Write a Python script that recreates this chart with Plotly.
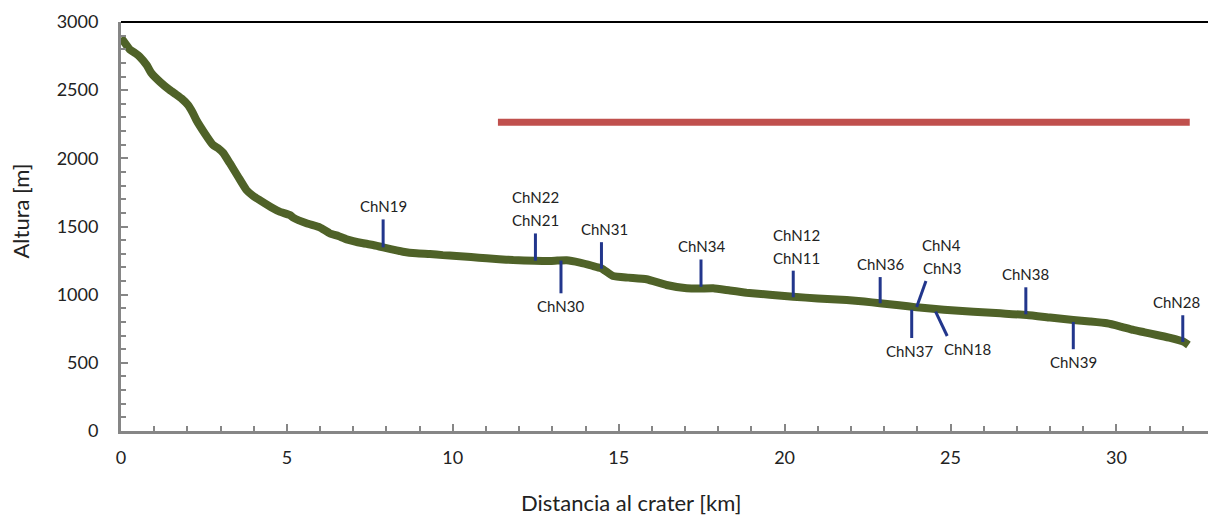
import plotly.graph_objects as go

# Longitudinal profile of the channel: distance from the crater (km) vs elevation (m)
dist_km = [0.00, 0.06, 0.26, 0.45, 0.56, 0.77, 0.92, 1.17, 1.47, 1.65, 1.82, 2.02,
           2.15, 2.27, 2.52, 2.77, 2.95, 3.08, 3.28, 3.53, 3.78, 3.98, 4.18, 4.58,
           4.78, 5.09, 5.19, 5.59, 5.99, 6.29, 6.55, 6.80, 7.30, 7.60, 7.90, 8.50,
           8.90, 9.31, 9.70, 10.11, 10.55, 11.02, 11.40, 11.82, 12.47, 12.82,
           13.15, 13.43, 13.83, 14.20, 14.48, 14.83, 15.30, 15.84, 16.44, 17.05,
           17.45, 17.85, 18.35, 18.85, 19.55, 20.26, 21.00, 21.87, 22.40, 22.87,
           23.45, 23.98, 24.80, 25.69, 26.50, 27.30, 28.00, 28.70, 29.20, 29.71,
           30.10, 30.51, 30.85, 31.22, 31.62, 32.02, 32.17]
elev_m = [2885, 2865, 2800, 2768, 2746, 2685, 2624, 2562, 2501, 2470, 2440, 2391,
          2340, 2281, 2184, 2098, 2070, 2040, 1964, 1865, 1768, 1725, 1694, 1634,
          1609, 1584, 1565, 1523, 1494, 1450, 1430, 1406, 1377, 1364, 1347, 1315,
          1303, 1298, 1290, 1284, 1276, 1267, 1260, 1254, 1249, 1247,
          1250, 1252, 1235, 1212, 1193, 1137, 1125, 1113, 1071, 1047,
          1045, 1047, 1030, 1014, 1000, 985, 972, 961, 950, 937,
          922, 907, 890, 875, 863, 851, 832, 814, 803, 790,
          768, 741, 724, 704, 683, 655, 631]

# Sampling stations along the channel
station_names = [["ChN19"], ["ChN22", "ChN21"], ["ChN30"], ["ChN31"], ["ChN34"],
                 ["ChN12", "ChN11"], ["ChN36"], ["ChN4", "ChN3"], ["ChN37"],
                 ["ChN18"], ["ChN38"], ["ChN39"], ["ChN28"]]
station_km = [7.90, 12.49, 13.26, 14.48, 17.48, 20.26, 22.88, 23.98, 23.83,
              24.55, 27.27, 28.70, 32.00]
station_elev = [1347, 1249, 1250, 1190, 1058, 981, 937, 910, 890, 875, 856, 800, 653]

# Reach highlighted by the horizontal bar
reach_start_km = 11.36
reach_end_km = 32.21
reach_level_m = 2265

x_ticks = [0, 5, 10, 15, 20, 25, 30]
y_ticks = [0, 500, 1000, 1500, 2000, 2500, 3000]

x_title = "Distancia al crater [km]"
y_title = "Altura [m]"

GREEN = "#4f6228"
NAVY = "#22368c"
RED = "#c0504d"
AXIS_GRAY = "#868686"
TEXT = "#222222"
FONT = "Lato"

# leader direction (+1 above the profile, -1 below) and horizontal lean (km)
lead_dir = [1, 1, -1, 1, 1, 1, 1, 1, -1, -1, 1, -1, 1]
lead_lean = [0, 0, 0, 0, 0, 0, 0, 0.28, 0, 0.35, 0, 0, 0]
lead_len = [205, 200, 240, 195, 200, 195, 192, 190, 208, 178, 198, 200, 196]
label_dx = [0, 0, 0, 3, 0, 3, 0, 16, -2, 20, 0, 0, -6]

fig = go.Figure()

fig.add_trace(go.Scatter(
    x=dist_km, y=elev_m, mode="lines",
    line=dict(color=GREEN, width=8, shape="spline", smoothing=0.4),
    hoverinfo="skip", showlegend=False,
))

fig.add_trace(go.Scatter(
    x=[reach_start_km, reach_end_km], y=[reach_level_m, reach_level_m],
    mode="lines", line=dict(color=RED, width=7),
    hoverinfo="skip", showlegend=False,
))

annotations = []
for names, km, el, d, lean, ln, dx in zip(station_names, station_km, station_elev,
                                          lead_dir, lead_lean, lead_len, label_dx):
    x_end = km + lean
    y_end = el + d * ln
    fig.add_trace(go.Scatter(
        x=[km, x_end], y=[el, y_end], mode="lines",
        line=dict(color=NAVY, width=3),
        hoverinfo="skip", showlegend=False,
    ))
    n = len(names)
    for i, name in enumerate(names):
        if d > 0:
            shift = 13 + (n - 1 - i) * 23
        else:
            shift = -(13 + i * 23)
        annotations.append(dict(
            x=x_end, y=y_end, xref="x", yref="y", text=name, showarrow=False,
            xanchor="center", yanchor="middle", xshift=dx, yshift=shift,
            font=dict(family=FONT, size=15, color=TEXT),
        ))

# axis titles, placed as free text in paper coordinates
annotations.append(dict(
    x=0.469, y=-0.176, xref="paper", yref="paper", text=x_title, showarrow=False,
    xanchor="center", yanchor="middle", font=dict(family=FONT, size=22, color=TEXT),
))
annotations.append(dict(
    x=-0.092, y=0.539, xref="paper", yref="paper", text=y_title, showarrow=False,
    textangle=-90, xanchor="center", yanchor="middle",
    font=dict(family=FONT, size=22, color=TEXT),
))

fig.update_layout(
    width=1208, height=518,
    margin=dict(l=121, r=0, t=22, b=87, pad=0),
    paper_bgcolor="white", plot_bgcolor="white",
    font=dict(family=FONT, color=TEXT),
    annotations=annotations,
    shapes=[dict(type="line", xref="paper", yref="paper", x0=0, x1=1, y0=1, y1=1,
                 line=dict(color="black", width=2))],
)

fig.update_xaxes(
    range=[0, 32.76], tickvals=x_ticks, ticks="inside", ticklen=7, tickwidth=2,
    tickcolor=AXIS_GRAY, showline=True, linecolor=AXIS_GRAY, linewidth=3,
    showgrid=False, zeroline=False, ticklabelstandoff=8,
    tickfont=dict(family=FONT, size=18, color=TEXT),
    minor=dict(dtick=1, ticks="inside", ticklen=5, tickwidth=2, tickcolor=AXIS_GRAY,
               showgrid=False),
)
fig.update_yaxes(
    range=[0, 3000], tickvals=y_ticks, ticks="inside", ticklen=7, tickwidth=2,
    tickcolor=AXIS_GRAY, showline=True, linecolor=AXIS_GRAY, linewidth=3,
    showgrid=False, zeroline=False, ticklabelstandoff=16,
    tickfont=dict(family=FONT, size=18, color=TEXT),
    minor=dict(dtick=100, ticks="inside", ticklen=5, tickwidth=2, tickcolor=AXIS_GRAY,
               showgrid=False),
)

fig.write_html("out.html")
